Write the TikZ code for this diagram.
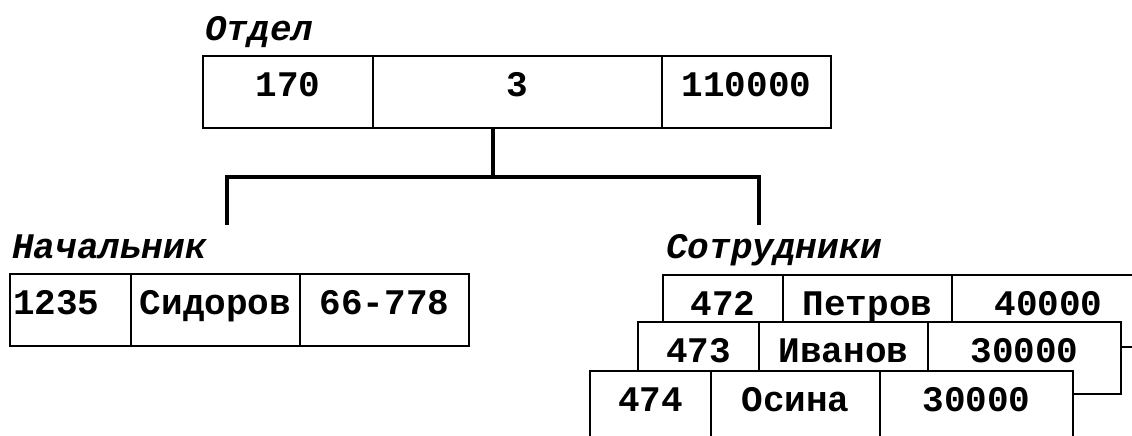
\documentclass[tikz,border=0pt]{standalone}
\usepackage{fontspec}
\newfontfamily\tabfont{Liberation Mono}
\usetikzlibrary{positioning}
\tikzset{
  cell/.style ={draw,fill=white,line width=1.5pt,inner sep=0pt,outer sep=0pt,
                text height=40pt,text depth=32pt,font=\tabfont\bfseries\fontsize{36}{40}\selectfont},
  ttl/.style  ={anchor=base west,inner sep=0pt,font=\tabfont\bfseries\itshape\fontsize{36}{40}\selectfont},
  lnk/.style  ={line width=3.5pt},
}

\begin{document}
\begin{tikzpicture}[x=1pt,y=-1pt]
  \useasboundingbox (0,0) rectangle (1132,436);
  \clip (0,0) rectangle (1132,436);

  \node[ttl] (dept) at (205,41) {Отдел};
  \node[cell,anchor=north west,minimum width=170pt] (d1) at (203,56) {170};
  \node[cell,right=0pt of d1,minimum width=289pt] (d2) {3};
  \node[cell,right=0pt of d2,minimum width=169pt] (d3) {110000};

  \node[ttl] (boss) at (12,258) {Начальник};
  \node[cell,anchor=north west,text width=115pt,inner xsep=3pt,align=left] (b1) at (10,274) {1235};
  \node[cell,right=0pt of b1,minimum width=169pt] (b2) {Сидоров};
  \node[cell,right=0pt of b2,minimum width=169pt] (b3) {66-778};

  \node[ttl] (staff) at (666,258) {Сотрудники};
  \node[cell,anchor=north west,minimum width=120pt] (p1) at (663,275) {472};
  \node[cell,right=0pt of p1,minimum width=169pt] (p2) {Петров};
  \node[cell,right=0pt of p2,minimum width=193pt] (p3) {40000};
  \node[cell,anchor=north west,minimum width=121pt] (i1) at (638,322) {473};
  \node[cell,right=0pt of i1,minimum width=169pt] (i2) {Иванов};
  \node[cell,right=0pt of i2,minimum width=193pt] (i3) {30000};
  \node[cell,anchor=north west,minimum width=121pt] (o1) at (590,371) {474};
  \node[cell,right=0pt of o1,minimum width=169pt] (o2) {Осина};
  \node[cell,right=0pt of o2,minimum width=193pt] (o3) {30000};

  \coordinate (fork) at (493,177);
  \coordinate (bossend) at (227,225);
  \coordinate (staffend) at (759,225);
  \draw[lnk] (d2.south -| fork) -- (fork);
  \draw[lnk] (bossend) |- (fork) -| (staffend);
\end{tikzpicture}
\end{document}
